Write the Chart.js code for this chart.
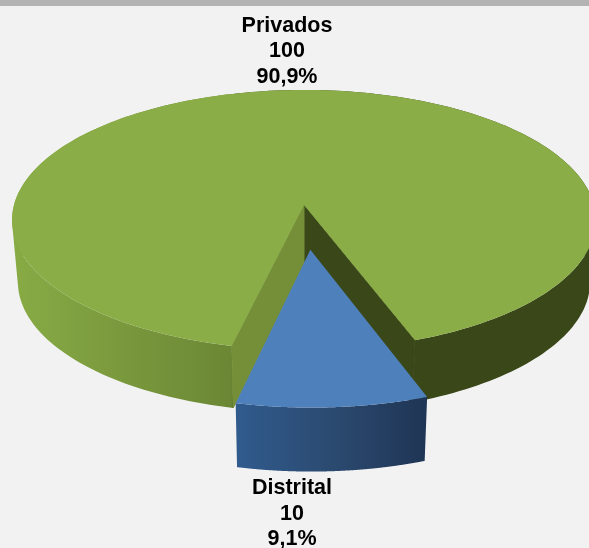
<!DOCTYPE html>
<html><head><meta charset="utf-8">
<style>html,body{margin:0;padding:0;background:#f2f2f2;overflow:hidden}canvas{display:block}</style>
<script src="https://cdn.jsdelivr.net/npm/chart.js@4"></script></head>
<body><canvas id="c" width="589" height="548"></canvas>
<script>
const categories = ['Distrital', 'Privados'];
const values = [10, 100];
const percentLabels = ['9,1%', '90,9%'];
const firstSliceAngle = 160.05;

const CX = 304, CY = 205, SX = 290, SY = 128.3, K = 0.115, SHRINK = 0.98;
const SLICE_DEPTH = [64, 62];
function project(u, v, depth) {
  const w = 1 - K * v;
  let x = SX * u / w, y = SY * v / w;
  if (depth) { x *= SHRINK; y += depth; }
  return [CX + x, CY + y];
}
function arcPts(a0, a1, ox, oy, depth) {
  const pts = [], n = 240;
  for (let i = 0; i <= n; i++) {
    const a = a0 + (a1 - a0) * i / n;
    pts.push(project(ox + Math.cos(a), oy + Math.sin(a), depth));
  }
  return pts;
}
function fillPoly(ctx, pts, style, seal) {
  ctx.beginPath();
  pts.forEach((p, i) => i ? ctx.lineTo(p[0], p[1]) : ctx.moveTo(p[0], p[1]));
  ctx.closePath();
  ctx.fillStyle = style; ctx.fill();
  if (seal) { ctx.strokeStyle = style; ctx.lineWidth = 1; ctx.stroke(); }
}
function fillWall(ctx, top, bot, style) {
  ctx.beginPath();
  for (let i = 0; i < top.length - 1; i++) {
    let q = [top[i], top[i + 1], bot[i + 1], bot[i]];
    let area = 0;
    q.forEach((p, j) => { const r = q[(j + 1) % 4]; area += p[0] * r[1] - r[0] * p[1]; });
    if (area < 0) q = q.reverse();
    q.forEach((p, j) => j ? ctx.lineTo(p[0], p[1]) : ctx.moveTo(p[0], p[1]));
    ctx.closePath();
  }
  ctx.fillStyle = style; ctx.fill('nonzero');
}
function drawSlice(ctx, arc, i) {
  const mid = (arc.startAngle + arc.endAngle) / 2;
  const ratio = (arc.options.offset || 0) / arc.outerRadius;
  const ox = Math.cos(mid) * ratio, oy = Math.sin(mid) * ratio;
  const d = SLICE_DEPTH[i];
  const top = arcPts(arc.startAngle, arc.endAngle, ox, oy, 0);
  const bot = arcPts(arc.startAngle, arc.endAngle, ox, oy, d);
  const apex = project(ox, oy, 0), apexB = project(ox, oy, d);
  if (i === 1) {
    const g = ctx.createLinearGradient(12, 0, 592, 0);
    g.addColorStop(0, '#88ab45');
    g.addColorStop(0.378, '#6b8735');
    g.addColorStop(0.385, '#3a4719');
    g.addColorStop(1, '#3a4719');
    fillWall(ctx, top, bot, g);
    fillPoly(ctx, [apex, top[top.length - 1], bot[bot.length - 1], apexB], '#3a4719', true);
    fillPoly(ctx, [apex, top[0], bot[0], apexB], '#748f38', true);
    fillPoly(ctx, [apex].concat(top), '#8aad47');
  } else {
    const g = ctx.createLinearGradient(237, 0, 427, 0);
    g.addColorStop(0, '#305b8d');
    g.addColorStop(0.5, '#2b4a70');
    g.addColorStop(1, '#1f3555');
    fillWall(ctx, top, bot, g);
    fillPoly(ctx, [apex].concat(top), '#4e80bc');
  }
}
const pie3d = {
  id: 'pie3d',
  beforeDraw(chart) {
    const ctx = chart.ctx;
    ctx.save();
    ctx.fillStyle = '#f2f2f2'; ctx.fillRect(0, 0, chart.width, chart.height);
    ctx.fillStyle = '#b3b3b3'; ctx.fillRect(0, 0, chart.width, 6);
    ctx.restore();
  },
  beforeDatasetsDraw(chart) {
    const ctx = chart.ctx, arcs = chart.getDatasetMeta(0).data;
    ctx.save();
    drawSlice(ctx, arcs[1], 1);
    drawSlice(ctx, arcs[0], 0);
    ctx.restore();
    return false;
  },
  afterDraw(chart) {
    const ctx = chart.ctx;
    const anchors = [[292, [494, 520, 545]], [287, [32, 57, 83]]];
    ctx.save();
    ctx.fillStyle = '#000000';
    ctx.font = 'bold 21.5px "Liberation Sans", Arial, sans-serif';
    ctx.textAlign = 'center'; ctx.textBaseline = 'alphabetic';
    categories.forEach((name, i) => {
      const [x, ys] = anchors[i];
      ctx.fillText(name, x, ys[0]);
      ctx.fillText(String(values[i]), x, ys[1]);
      ctx.fillText(percentLabels[i], x, ys[2]);
    });
    ctx.restore();
  }
};
new Chart(document.getElementById('c'), {
  type: 'pie',
  data: { labels: categories, datasets: [{ data: values, offset: [79, 0], borderWidth: 0, backgroundColor: ['#4e80bc', '#8aad47'] }] },
  options: {
    responsive: false, animation: false, rotation: firstSliceAngle,
    events: [],
    plugins: { legend: { display: false }, tooltip: { enabled: false } }
  },
  plugins: [pie3d]
});
</script></body></html>
